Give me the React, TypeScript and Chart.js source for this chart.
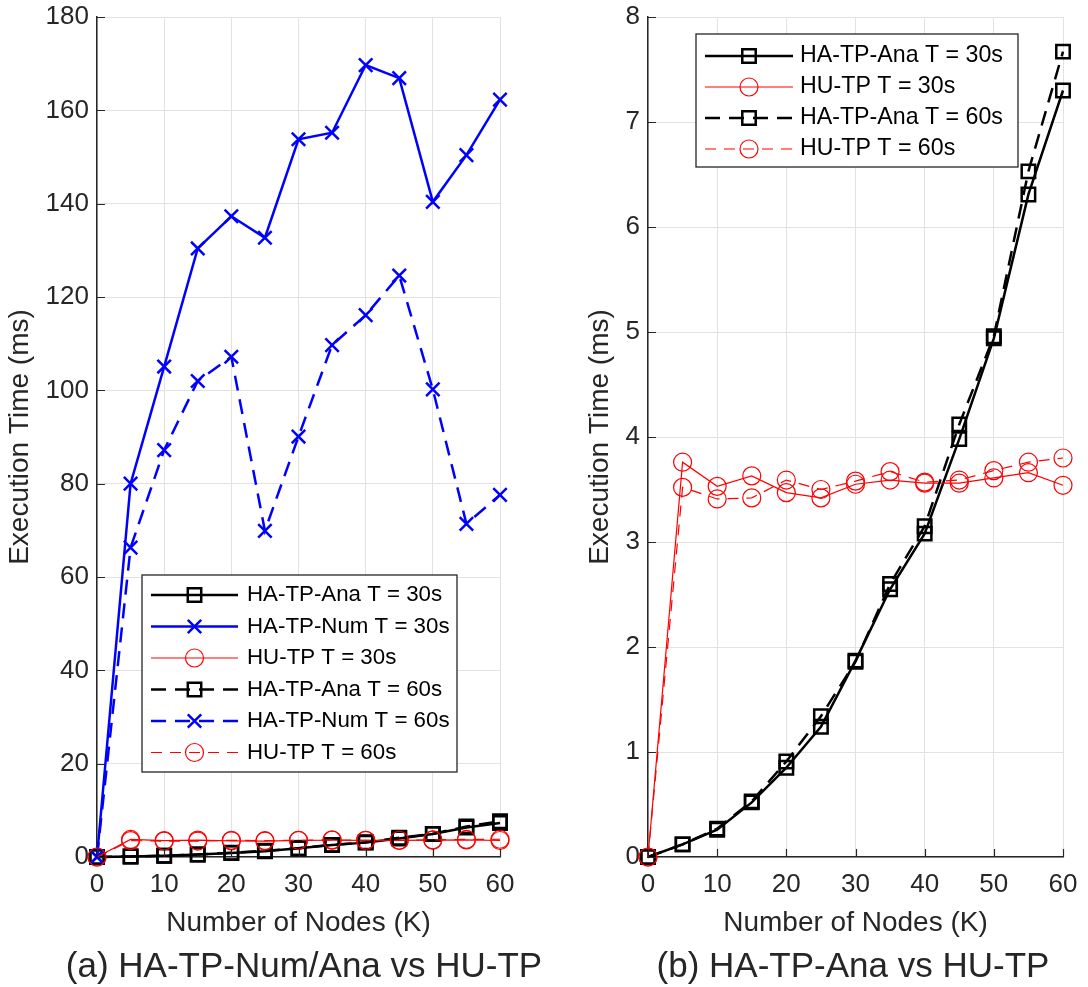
import React, { useEffect, useRef } from "react";
import { Chart, registerables } from "chart.js";

Chart.register(...registerables);

// Number of nodes (thousands)
const nodesK = [0, 5, 10, 15, 20, 25, 30, 35, 40, 45, 50, 55, 60];

// Execution time (ms)
const anaT30 = [0, 0.12, 0.26, 0.52, 0.85, 1.24, 1.87, 2.55, 3.08, 3.98, 4.94, 6.31, 7.3];
const anaT60 = [0, 0.12, 0.27, 0.53, 0.91, 1.34, 1.86, 2.6, 3.15, 4.12, 4.96, 6.53, 7.67];
const numT30 = [0, 80.0, 105.1, 130.4, 137.3, 132.7, 153.8, 155.2, 169.7, 166.9, 140.4, 150.4, 162.3];
const numT60 = [0, 66.3, 87.2, 102.0, 107.2, 69.9, 90.1, 109.7, 116.1, 124.6, 100.2, 71.4, 77.6];
const huT30 = [0, 3.76, 3.53, 3.63, 3.47, 3.42, 3.55, 3.59, 3.56, 3.56, 3.61, 3.66, 3.54];
const huT60 = [0, 3.52, 3.41, 3.42, 3.59, 3.5, 3.58, 3.67, 3.57, 3.59, 3.68, 3.76, 3.8];

const xTicks = { min: 0, max: 60, step: 10 };
const yTicksA = { min: 0, max: 180, step: 20 };
const yTicksB = { min: 0, max: 8, step: 1 };

const xTitle = "Number of Nodes (K)";
const yTitle = "Execution Time (ms)";
const captionA = "(a) HA-TP-Num/Ana vs HU-TP";
const captionB = "(b) HA-TP-Ana vs HU-TP";

const FONT = '"Liberation Sans", Arial, Helvetica, sans-serif';
const INK = "#262626";
const GRID = "#e2e2e2";

type Marker = "rect" | "circle" | "crossRot";

interface SeriesStyle {
  color: string;
  width: number;
  dash: number[];
  marker: Marker;
  radius: number;
}

const THICK_DASH = [15, 9];
const THIN_DASH = [11, 8];

const styleAna30: SeriesStyle = { color: "#000000", width: 2.5, dash: [], marker: "rect", radius: 9.5 };
const styleAna60: SeriesStyle = { color: "#000000", width: 2.5, dash: THICK_DASH, marker: "rect", radius: 9.5 };
const styleNum30: SeriesStyle = { color: "#0000ff", width: 2.5, dash: [], marker: "crossRot", radius: 9.5 };
const styleNum60: SeriesStyle = { color: "#0000ff", width: 2.5, dash: THICK_DASH, marker: "crossRot", radius: 9.5 };
const styleHu30: SeriesStyle = { color: "#ff0000", width: 1.2, dash: [], marker: "circle", radius: 9 };
const styleHu60: SeriesStyle = { color: "#ff0000", width: 1.2, dash: THIN_DASH, marker: "circle", radius: 9 };

function makeDataset(label: string, values: number[], s: SeriesStyle, order: number) {
  return {
    label,
    data: nodesK.map((x, i) => ({ x, y: values[i] })),
    borderColor: s.color,
    borderWidth: s.width,
    borderDash: s.dash,
    pointStyle: s.marker,
    pointRadius: s.radius,
    pointHoverRadius: s.radius,
    pointBorderColor: s.color,
    pointBorderWidth: s.width,
    pointBackgroundColor: "rgba(0,0,0,0)",
    fill: false,
    tension: 0,
    clip: false as any,
    order,
    markerStyle: s,
  };
}

interface LegendLayout {
  box: [number, number, number, number];
  rowY0: number;
  rowStep: number;
  lineX0: number;
  lineX1: number;
  textX: number;
  fontSize: number;
}

function drawMarker(ctx: CanvasRenderingContext2D, s: SeriesStyle, cx: number, cy: number) {
  ctx.save();
  ctx.setLineDash([]);
  ctx.strokeStyle = s.color;
  ctx.lineWidth = s.width;
  ctx.beginPath();
  if (s.marker === "rect") {
    const h = Math.SQRT1_2 * s.radius;
    ctx.rect(cx - h, cy - h, 2 * h, 2 * h);
  } else if (s.marker === "circle") {
    ctx.arc(cx, cy, s.radius, 0, Math.PI * 2);
  } else {
    const h = Math.SQRT1_2 * s.radius;
    ctx.moveTo(cx - h, cy - h);
    ctx.lineTo(cx + h, cy + h);
    ctx.moveTo(cx - h, cy + h);
    ctx.lineTo(cx + h, cy - h);
  }
  ctx.stroke();
  ctx.restore();
}

// Inward tick marks on the left/bottom axes plus a boxed legend inside the plot
const matlabAxesPlugin = {
  id: "matlabAxes",
  afterDatasetsDraw(chart: any, _args: any, opts: any) {
    const ctx: CanvasRenderingContext2D = chart.ctx;
    const area = chart.chartArea;
    const xs = chart.scales.x;
    const ys = chart.scales.y;
    const len = 8;

    ctx.save();
    ctx.strokeStyle = INK;
    ctx.lineWidth = 1.2;
    ctx.beginPath();
    for (const t of xs.ticks) {
      const px = Math.round(xs.getPixelForValue(t.value)) + 0.5;
      ctx.moveTo(px, area.bottom);
      ctx.lineTo(px, area.bottom - len);
    }
    for (const t of ys.ticks) {
      const py = Math.round(ys.getPixelForValue(t.value)) + 0.5;
      ctx.moveTo(area.left, py);
      ctx.lineTo(area.left + len, py);
    }
    ctx.stroke();
    ctx.restore();

    const lg: LegendLayout = opts.legend;
    if (!lg) return;
    const [bx0, by0, bx1, by1] = lg.box;
    ctx.save();
    ctx.fillStyle = "#ffffff";
    ctx.fillRect(bx0, by0, bx1 - bx0, by1 - by0);
    ctx.strokeStyle = INK;
    ctx.lineWidth = 1.3;
    ctx.strokeRect(bx0, by0, bx1 - bx0, by1 - by0);

    ctx.font = `${lg.fontSize}px ${FONT}`;
    ctx.textBaseline = "middle";
    ctx.textAlign = "left";
    chart.data.datasets.forEach((ds: any, i: number) => {
      const s: SeriesStyle = ds.markerStyle;
      const y = lg.rowY0 + i * lg.rowStep;
      ctx.save();
      ctx.strokeStyle = s.color;
      ctx.lineWidth = s.width;
      ctx.setLineDash(s.dash);
      ctx.beginPath();
      ctx.moveTo(lg.lineX0, y);
      ctx.lineTo(lg.lineX1, y);
      ctx.stroke();
      ctx.restore();
      drawMarker(ctx, s, (lg.lineX0 + lg.lineX1) / 2, y);
      ctx.fillStyle = "#000000";
      ctx.fillText(ds.label, lg.textX, y);
    });
    ctx.restore();
  },
};

function buildConfig(
  datasets: any[],
  yRange: { min: number; max: number; step: number },
  yWidth: number,
  rightPad: number,
  yTitlePad: number,
  legend: LegendLayout
): any {
  return {
    type: "line",
    data: { datasets },
    plugins: [matlabAxesPlugin],
    options: {
      responsive: false,
      animation: false,
      devicePixelRatio: 1,
      layout: { padding: { left: 0, right: rightPad, top: 17, bottom: 30 } },
      plugins: {
        legend: { display: false },
        tooltip: { enabled: false },
        title: { display: false },
        matlabAxes: { legend },
      },
      scales: {
        x: {
          type: "linear",
          min: xTicks.min,
          max: xTicks.max,
          ticks: {
            stepSize: xTicks.step,
            color: INK,
            font: { family: FONT, size: 26 },
            padding: 12,
            maxRotation: 0,
          },
          grid: { color: GRID, lineWidth: 1, drawTicks: false },
          border: { display: true, color: INK, width: 1.5 },
          title: {
            display: true,
            text: xTitle,
            color: INK,
            font: { family: FONT, size: 28 },
            padding: { top: 0, bottom: 17 },
          },
          afterFit: (s: any) => {
            s.height = 100;
            s.paddingLeft = 0;
            s.paddingRight = 0;
          },
        },
        y: {
          type: "linear",
          min: yRange.min,
          max: yRange.max,
          ticks: {
            stepSize: yRange.step,
            color: INK,
            font: { family: FONT, size: 26 },
            padding: 8,
          },
          grid: { color: GRID, lineWidth: 1, drawTicks: false },
          border: { display: true, color: INK, width: 1.5 },
          title: {
            display: true,
            text: yTitle,
            color: INK,
            font: { family: FONT, size: 28 },
            padding: { top: yTitlePad, bottom: 0 },
          },
          afterFit: (s: any) => {
            s.width = yWidth;
            s.paddingTop = 0;
            s.paddingBottom = 0;
          },
        },
      },
    },
  };
}

function Panel({ left, make }: { left: number; make: () => any }) {
  const ref = useRef<HTMLCanvasElement>(null);
  useEffect(() => {
    const chart = new Chart(ref.current as HTMLCanvasElement, make());
    return () => chart.destroy();
  }, []);
  return (
    <canvas
      ref={ref}
      width={544}
      height={987}
      style={{ position: "absolute", left, top: 0, width: 544, height: 987, display: "block" }}
    />
  );
}

const makeLeft = () => {
  const ds = [
    makeDataset("HA-TP-Ana T = 30s", anaT30, styleAna30, 6),
    makeDataset("HA-TP-Num T = 30s", numT30, styleNum30, 5),
    makeDataset("HU-TP T = 30s", huT30, styleHu30, 4),
    makeDataset("HA-TP-Ana T = 60s", anaT60, styleAna60, 3),
    makeDataset("HA-TP-Num T = 60s", numT60, styleNum60, 2),
    makeDataset("HU-TP T = 60s", huT60, styleHu60, 1),
  ];
  return buildConfig(ds, yTicksA, 97, 44, 3.5, {
    box: [142, 575, 457, 772],
    rowY0: 595,
    rowStep: 31.5,
    lineX0: 151,
    lineX1: 238,
    textX: 247,
    fontSize: 22.3,
  });
};

const makeRight = () => {
  const ds = [
    makeDataset("HA-TP-Ana T = 30s", anaT30, styleAna30, 4),
    makeDataset("HU-TP T = 30s", huT30, styleHu30, 3),
    makeDataset("HA-TP-Ana T = 60s", anaT60, styleAna60, 2),
    makeDataset("HU-TP T = 60s", huT60, styleHu60, 1),
  ];
  return buildConfig(ds, yTicksB, 104, 25, 39.5, {
    box: [152, 34, 474, 167],
    rowY0: 56,
    rowStep: 31,
    lineX0: 161,
    lineX1: 249,
    textX: 256,
    fontSize: 23.2,
  });
};

const captionStyle = (center: number): React.CSSProperties => ({
  position: "absolute",
  left: center - 300,
  width: 600,
  top: 945,
  height: 40,
  lineHeight: "40px",
  textAlign: "center",
  fontFamily: FONT,
  fontSize: 35,
  color: INK,
  whiteSpace: "nowrap",
});

export default function App() {
  return (
    <div
      style={{
        position: "fixed",
        left: 0,
        top: 0,
        width: 1088,
        height: 987,
        background: "#ffffff",
        overflow: "hidden",
      }}
    >
      <Panel left={0} make={makeLeft} />
      <Panel left={544} make={makeRight} />
      <div style={captionStyle(304)}>{captionA}</div>
      <div style={captionStyle(853)}>{captionB}</div>
    </div>
  );
}
